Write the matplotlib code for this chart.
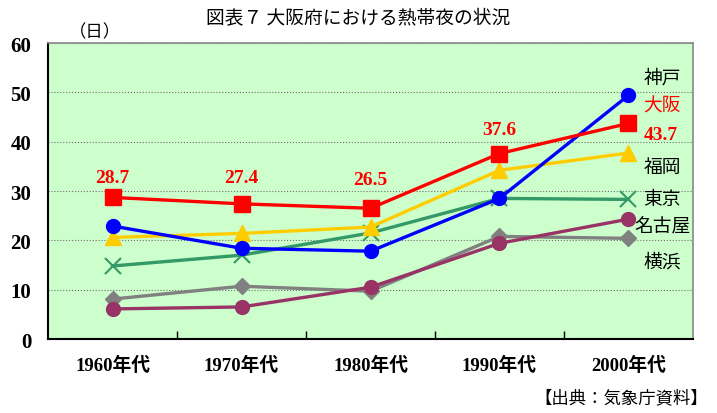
import matplotlib
matplotlib.use("Agg")
import matplotlib.pyplot as plt

plt.rcParams.update({'font.family': ['Noto Sans CJK JP', 'DejaVu Sans']})

# Data
decades = ["1960年代", "1970年代", "1980年代", "1990年代", "2000年代"]
kobe = [22.9, 18.4, 17.8, 28.5, 49.4]
osaka = [28.7, 27.4, 26.5, 37.6, 43.7]
fukuoka = [20.6, 21.4, 22.7, 34.2, 37.7]
tokyo = [14.8, 17.0, 21.5, 28.5, 28.3]
nagoya = [6.1, 6.5, 10.5, 19.4, 24.3]
yokohama = [8.1, 10.7, 9.7, 20.8, 20.4]
yticks = [0, 10, 20, 30, 40, 50, 60]

serif_b = dict(family=['Liberation Serif', 'Noto Sans CJK JP'], fontweight='bold')

fig = plt.figure(figsize=(7.17, 4.14), dpi=100)
ax = fig.add_axes([0.067, 0.1787, 0.8995, 0.715])
ax.set_facecolor('#CCFFCC')

x = list(range(len(decades)))
ax.plot(x, yokohama, color='#808080', lw=2.4, marker='D', ms=8, zorder=3)
ax.plot(x, nagoya, color='#993366', lw=2.4, marker='o', ms=10, zorder=3)
ax.plot(x, tokyo, color='#339966', lw=2.4, marker='x', ms=12, mew=1.5, zorder=3)
ax.plot(x, fukuoka, color='#FFCC00', lw=2.4, marker='^', ms=12, zorder=3)
ax.plot(x, kobe, color='#0000FF', lw=2.4, marker='o', ms=10, zorder=3)
ax.plot(x, osaka, color='#FF0000', lw=2.4, marker='s', ms=11, zorder=4)

# value labels for Osaka
label_y = [32.8, 32.8, 32.4, 42.5]
for i in range(4):
    ax.text(x[i], label_y[i], "%.1f" % osaka[i], color='#FF0000',
            ha='center', va='center', fontsize=14, **serif_b)
ax.text(4.25, 41.5, "%.1f" % osaka[4], color='#FF0000', ha='center',
        va='center', fontsize=14, **serif_b)

# city labels
cities = [("神戸", 53.2, 'black'), ("大阪", 47.4, '#FF0000'),
          ("福岡", 35.0, 'black'), ("東京", 28.5, 'black'),
          ("名古屋", 22.9, 'black'), ("横浜", 15.8, 'black')]
for name, yy, c in cities:
    ax.text(4.26, yy, name, color=c, ha='center', va='center', fontsize=13.5)

ax.set_xlim(-0.5, 4.5)
ax.set_ylim(0, 60)
ax.set_yticks(yticks)
ax.set_yticklabels([str(v) for v in yticks], fontsize=15, **serif_b)
ax.set_xticks([i + 0.5 for i in range(4)])
ax.set_xticklabels([])
ax.tick_params(axis='x', direction='in', length=6, width=1)
ax.tick_params(axis='y', length=0, pad=12)
for i, lab in enumerate(decades):
    ax.text(i, -5.2, lab, ha='center', va='center', fontsize=13.5, **serif_b)

ax.grid(axis='y', color='#707070', ls=':', lw=0.8)
ax.set_axisbelow(True)
for s in ['top', 'right']:
    ax.spines[s].set_color('#888888')
    ax.spines[s].set_linewidth(1.2)
for s in ['left', 'bottom']:
    ax.spines[s].set_color('black')
    ax.spines[s].set_linewidth(1.5)

fig.text(0.5, 0.955, "図表７ 大阪府における熱帯夜の状況", ha='center', va='center',
         fontsize=13.5)
fig.text(0.133, 0.922, "（日）", ha='center', va='center', fontsize=12.5)
fig.text(0.988, 0.038, "【出典：気象庁資料】", ha='right', va='center', fontsize=12.5)

fig.savefig("out.png", dpi=100)
